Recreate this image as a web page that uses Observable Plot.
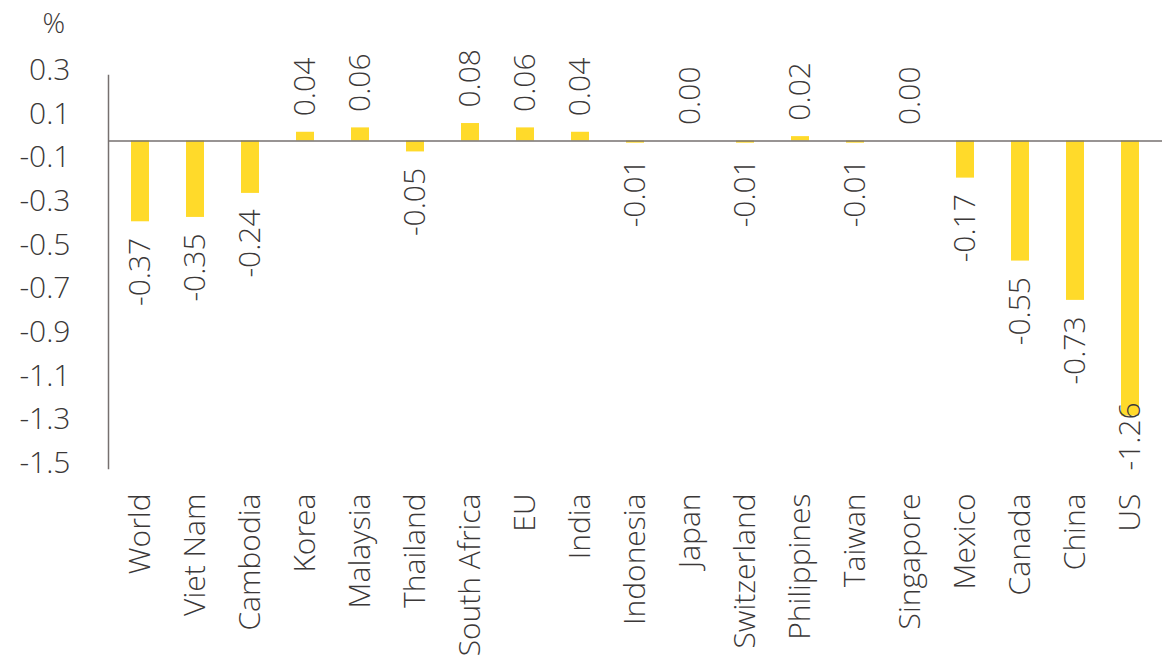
<!DOCTYPE html>
<html>
<head>
<meta charset="utf-8">
<script src="https://cdn.jsdelivr.net/npm/d3@7"></script>
<script src="https://cdn.jsdelivr.net/npm/@observablehq/plot@0.6"></script>
<style>
  html, body { margin: 0; padding: 0; background: #fff; }
  #chart svg { display: block; }
</style>
</head>
<body>
<div id="chart"></div>
<script>
const categories = ["World", "Viet Nam", "Cambodia", "Korea", "Malaysia", "Thailand", "South Africa", "EU", "India", "Indonesia", "Japan", "Switzerland", "Philippines", "Taiwan", "Singapore", "Mexico", "Canada", "China", "US"];
const values = [-0.37, -0.35, -0.24, 0.04, 0.06, -0.05, 0.08, 0.06, 0.04, -0.01, 0.00, -0.01, 0.02, -0.01, 0.00, -0.17, -0.55, -0.73, -1.26];
const yTicks = [0.3, 0.1, -0.1, -0.3, -0.5, -0.7, -0.9, -1.1, -1.3, -1.5];
const unitLabel = "%";

const data = categories.map((name, i) => ({name, value: values[i]}));
const fmt = v => v.toFixed(2);
const overflowLimit = -1.2;

const FONT = "'Open Sans', Lato, sans-serif";
const FS = 30;
const TEXT = "#3b3838";
const AXIS = "#76706f";
const BAR = "#FFDA2A";

const chart = Plot.plot({
  width: 1175,
  height: 665,
  marginTop: 75,
  marginBottom: 197,
  marginLeft: 108,
  marginRight: 13,
  style: {fontFamily: FONT, fontSize: FS + "px", fontWeight: 300, color: TEXT, background: "#fff"},
  x: {domain: categories, paddingInner: 0.68, paddingOuter: 0.34, axis: null},
  y: {domain: [-1.5, 0.3], axis: null},
  marks: [
    Plot.barY(data, {x: "name", y: "value", fill: BAR}),
    Plot.ruleY([0], {stroke: AXIS, strokeWidth: 1.5}),
    Plot.frame({anchor: "left", stroke: AXIS, strokeWidth: 1.5}),
    Plot.axisY({ticks: yTicks, tickSize: 0, tickPadding: 38, dy: -5, tickFormat: d => d.toFixed(1), label: null, fill: TEXT, fontSize: FS}),
    Plot.text([unitLabel], {frameAnchor: "top-left", text: d => d, dx: -66, dy: -62, fill: TEXT, fontSize: FS - 2}),
    Plot.text(data, {x: "name", frameAnchor: "bottom", text: "name", rotate: -90, textAnchor: "end", lineAnchor: "middle", dy: 25, fill: TEXT, fontSize: FS}),
    Plot.text(data.filter(d => d.value >= 0), {x: "name", y: "value", text: d => fmt(d.value), rotate: -90, textAnchor: "start", lineAnchor: "middle", dy: -16, fill: TEXT, fontSize: FS}),
    Plot.text(data.filter(d => d.value < 0 && d.value > overflowLimit), {x: "name", y: "value", text: d => fmt(d.value), rotate: -90, textAnchor: "end", lineAnchor: "middle", dy: 16, fill: TEXT, fontSize: FS}),
    Plot.text(data.filter(d => d.value <= overflowLimit), {x: "name", frameAnchor: "bottom", text: d => fmt(d.value), rotate: -90, textAnchor: "start", lineAnchor: "middle", dy: 2, fill: TEXT, fontSize: FS})
  ]
});
document.getElementById("chart").appendChild(chart);
</script>
</body>
</html>
